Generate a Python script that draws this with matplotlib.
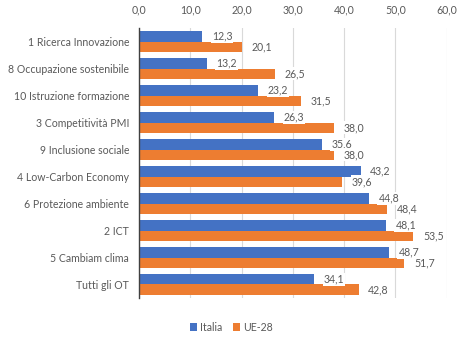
import matplotlib
matplotlib.use("Agg")
from matplotlib import pyplot as plt
import numpy as np

# data
categorie = ['1 Ricerca Innovazione', '8 Occupazione sostenibile', '10 Istruzione formazione',
             '3 Competitività PMI', '9 Inclusione sociale', '4 Low-Carbon Economy',
             '6 Protezione ambiente', '2 ICT', '5 Cambiam clima', 'Tutti gli OT']
italia = [12.3, 13.2, 23.2, 26.3, 35.6, 43.2, 44.8, 48.1, 48.7, 34.1]
ue28 = [20.1, 26.5, 31.5, 38.0, 38.0, 39.6, 48.4, 53.5, 51.7, 42.8]
xticks = [0, 10, 20, 30, 40, 50, 60]

plt.rcParams['font.family'] = ['Lato', 'DejaVu Sans']
grigio = '#595959'
blu, arancio = '#4472C4', '#ED7D31'
fs = 7.6

fig = plt.figure(figsize=(4.63, 3.39), dpi=100)
ax = fig.add_axes([0.300, 0.121, 0.665, 0.796])

y = np.arange(len(categorie))
h = 0.39
b1 = ax.barh(y - h / 2, italia, height=h, color=blu, label='Italia', zorder=2)
b2 = ax.barh(y + h / 2, ue28, height=h, color=arancio, label='UE-28', zorder=2)

for bars, vals in ((b1, italia), (b2, ue28)):
    for rect, v in zip(bars, vals):
        ax.annotate(f'{v:.1f}'.replace('.', ','),
                    (rect.get_width(), rect.get_y() + rect.get_height() / 2),
                    xytext=(7, 0), textcoords='offset points', va='center', ha='left',
                    fontsize=fs, color=grigio, zorder=3,
                    bbox=dict(boxstyle='square,pad=0.1', fc='white', ec='none'))

ax.set_xlim(0, 60)
ax.set_ylim(len(categorie) - 0.5, -0.5)
ax.set_xticks(xticks)
ax.set_xticklabels([f'{t:.1f}'.replace('.', ',') for t in xticks])
ax.set_yticks(y)
ax.set_yticklabels(categorie)
ax.xaxis.tick_top()
ax.tick_params(axis='both', length=0, labelsize=fs, labelcolor=grigio)
ax.tick_params(axis='x', pad=9)
ax.tick_params(axis='y', pad=7)
ax.grid(axis='x', color='#D9D9D9', linewidth=0.8, zorder=0)
for s in ('top', 'right', 'bottom'):
    ax.spines[s].set_visible(False)
ax.spines['left'].set_color('#404040')
ax.spines['left'].set_linewidth(1.0)
ax.spines['left'].set_zorder(3)

fig.legend(handles=[b1, b2], loc='center', bbox_to_anchor=(0.5, 0.035), ncol=2,
           frameon=False, fontsize=fs, handlelength=0.7, handleheight=0.7,
           handletextpad=0.3, columnspacing=1.0, labelcolor=grigio)

fig.savefig('out.png', dpi=100)
